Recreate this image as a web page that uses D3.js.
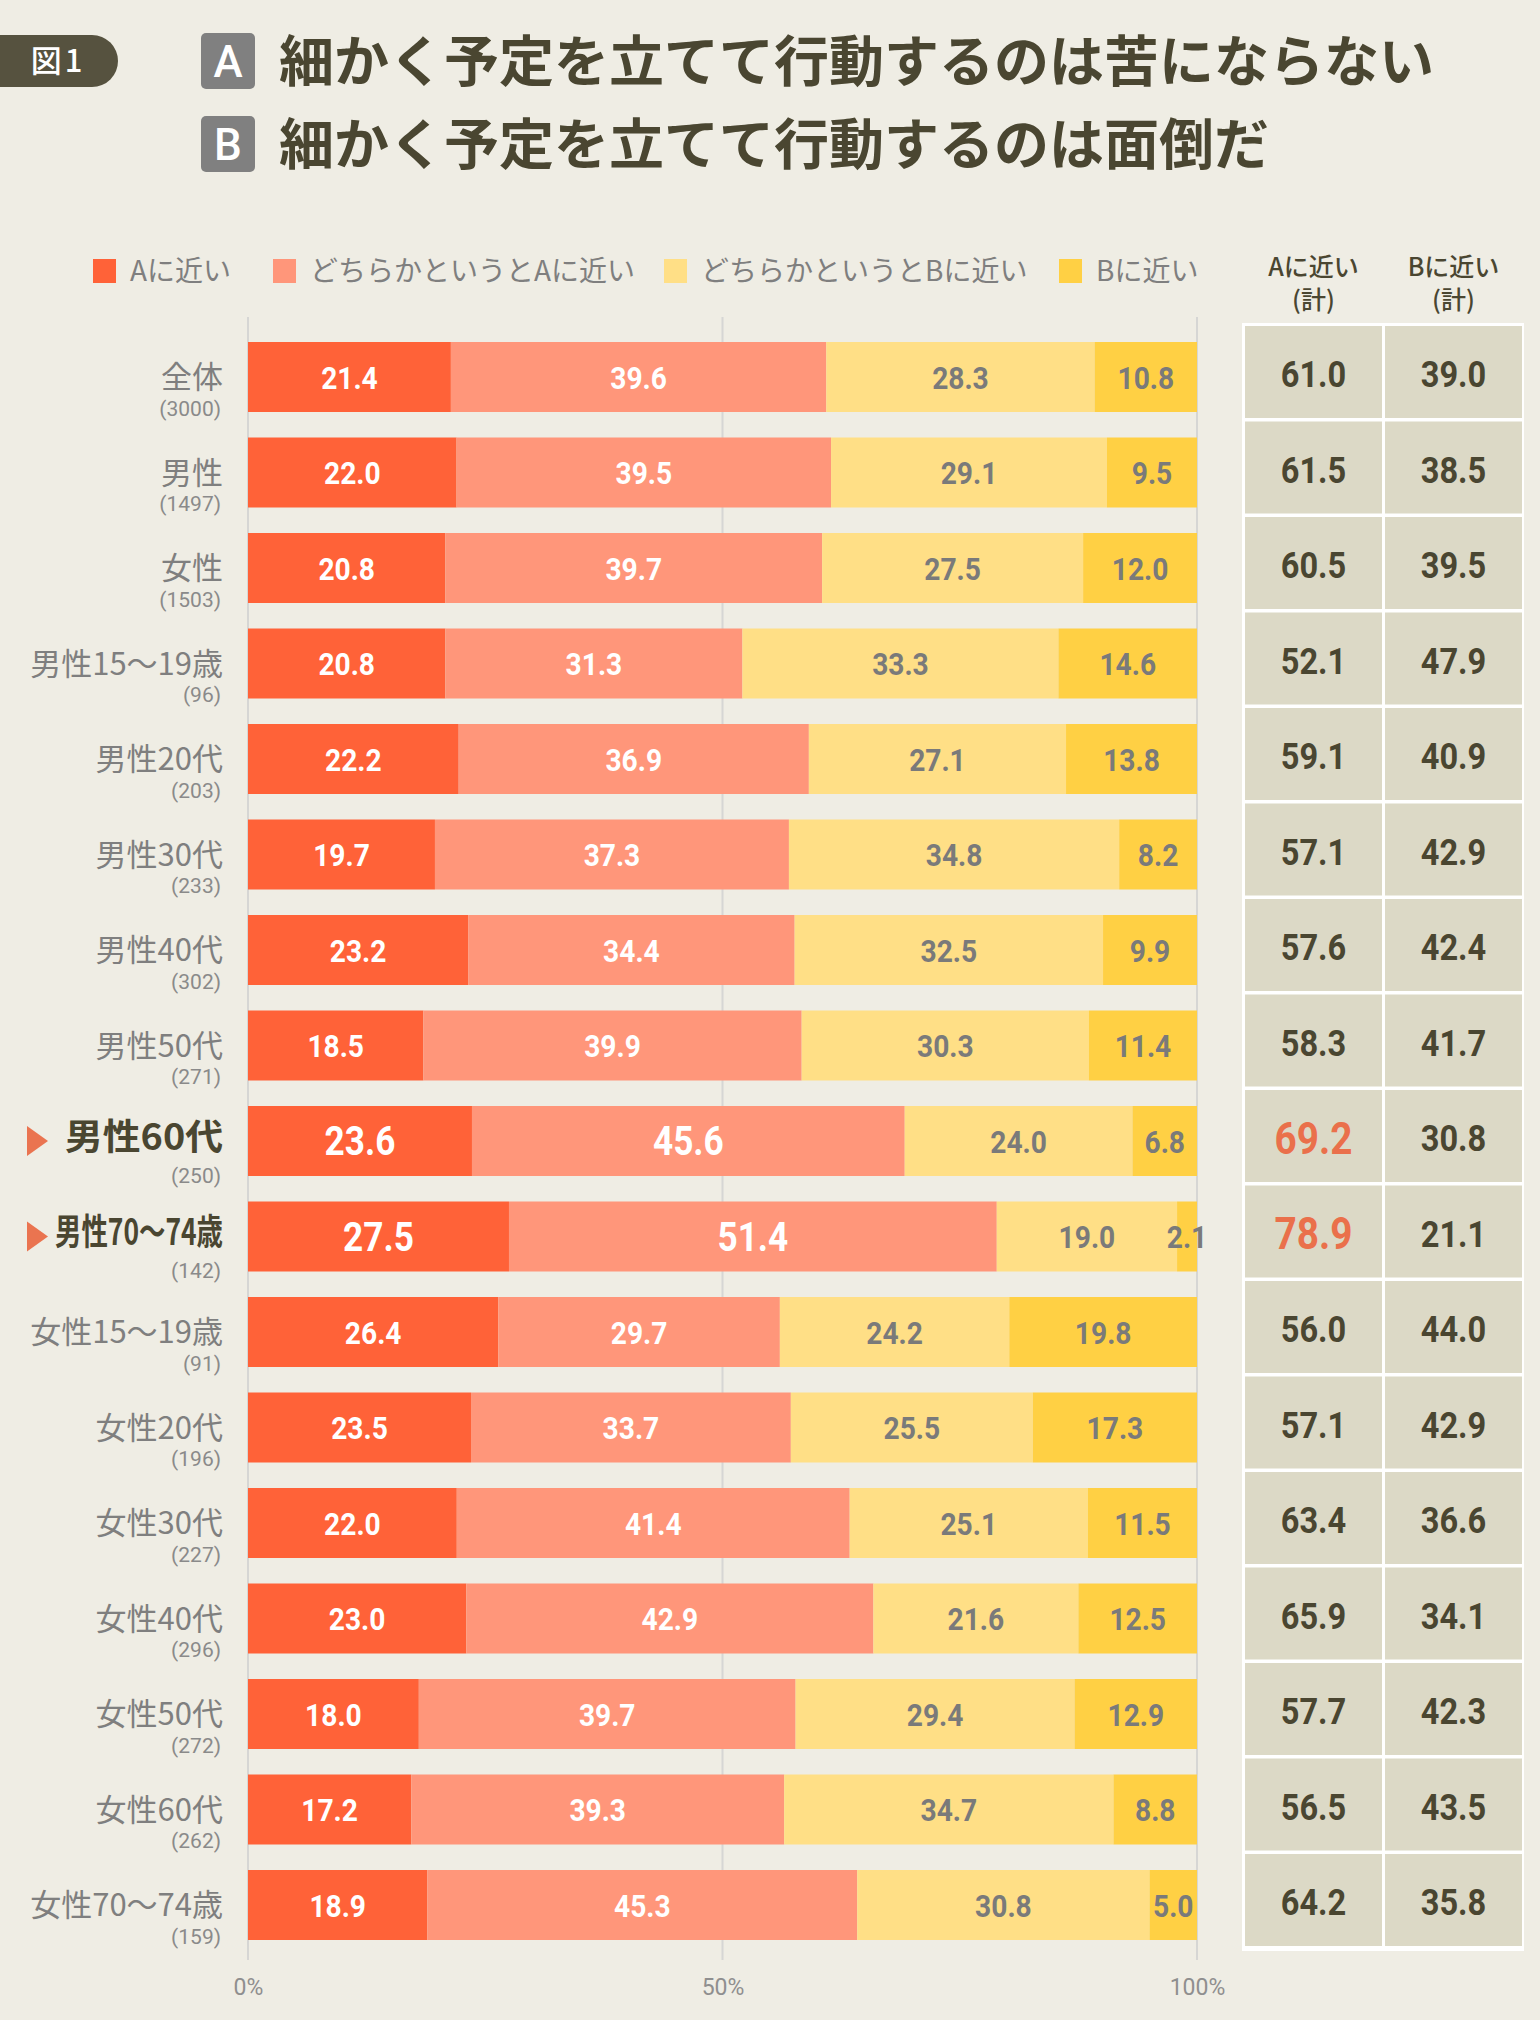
<!DOCTYPE html>
<html>
<head>
<meta charset="utf-8">
<script src="https://cdn.jsdelivr.net/npm/d3@7"></script>
<style>
  body { margin: 0; background: #efede4; }
  svg { display: block; }
</style>
</head>
<body>
<div id="stage"></div>
<script>
const categories = ['全体', '男性', '女性', '男性15〜19歳', '男性20代', '男性30代', '男性40代', '男性50代',
  '男性60代', '男性70〜74歳', '女性15〜19歳', '女性20代', '女性30代', '女性40代', '女性50代', '女性60代', '女性70〜74歳'];
const sampleSizes = [3000, 1497, 1503, 96, 203, 233, 302, 271, 250, 142, 91, 196, 227, 296, 272, 262, 159];
const nearA = [21.4, 22.0, 20.8, 20.8, 22.2, 19.7, 23.2, 18.5, 23.6, 27.5, 26.4, 23.5, 22.0, 23.0, 18.0, 17.2, 18.9];
const ratherA = [39.6, 39.5, 39.7, 31.3, 36.9, 37.3, 34.4, 39.9, 45.6, 51.4, 29.7, 33.7, 41.4, 42.9, 39.7, 39.3, 45.3];
const ratherB = [28.3, 29.1, 27.5, 33.3, 27.1, 34.8, 32.5, 30.3, 24.0, 19.0, 24.2, 25.5, 25.1, 21.6, 29.4, 34.7, 30.8];
const nearB = [10.8, 9.5, 12.0, 14.6, 13.8, 8.2, 9.9, 11.4, 6.8, 2.1, 19.8, 17.3, 11.5, 12.5, 12.9, 8.8, 5.0];
const totalA = [61.0, 61.5, 60.5, 52.1, 59.1, 57.1, 57.6, 58.3, 69.2, 78.9, 56.0, 57.1, 63.4, 65.9, 57.7, 56.5, 64.2];
const totalB = [39.0, 38.5, 39.5, 47.9, 40.9, 42.9, 42.4, 41.7, 30.8, 21.1, 44.0, 42.9, 36.6, 34.1, 42.3, 43.5, 35.8];
const highlighted = ['男性60代', '男性70〜74歳'];
const legendLabels = ['Aに近い', 'どちらかというとAに近い', 'どちらかというとBに近い', 'Bに近い'];
const tickValues = [0, 50, 100];

const colors = ['#ff6238', '#ff967a', '#ffdf86', '#ffd044'];
const labelColors = ['#ffffff', '#ffffff', '#7a7a7a', '#7a7a7a'];
const dark = '#4a4631';
const gray = '#7f7f7f';
const jp = '"Noto Sans CJK JP", "Noto Sans", sans-serif';
const num = 'Roboto, "Liberation Sans", sans-serif';

const svg = d3.select('#stage').append('svg')
  .attr('width', 1540)
  .attr('height', 2020);

svg.append('rect').attr('width', 1540).attr('height', 2020).attr('fill', '#efede4');

// header
svg.append('path')
  .attr('d', 'M0,35 H92 A26,26 0 0 1 92,87 H0 Z')
  .attr('fill', '#56523f');
svg.append('text')
  .attr('x', 58).attr('y', 61)
  .attr('dy', '0.36em')
  .attr('text-anchor', 'middle')
  .attr('fill', '#fff')
  .style('font', `500 31px ${jp}`)
  .style('letter-spacing', '3px')
  .text('図1');

const titles = [
  { key: 'A', text: '細かく予定を立てて行動するのは苦にならない', cy: 61 },
  { key: 'B', text: '細かく予定を立てて行動するのは面倒だ', cy: 144 },
];
const title = svg.selectAll('g.title').data(titles).enter().append('g').attr('class', 'title');
title.append('rect')
  .attr('x', 201).attr('y', (d) => d.cy - 28)
  .attr('width', 54).attr('height', 56)
  .attr('rx', 5)
  .attr('fill', '#808080');
title.append('text')
  .attr('x', 228).attr('y', (d) => d.cy)
  .attr('dy', '0.36em')
  .attr('text-anchor', 'middle')
  .attr('fill', '#fff')
  .style('font', `500 44px ${num}`)
  .text((d) => d.key);
title.append('text')
  .attr('x', 279).attr('y', (d) => d.cy)
  .attr('dy', '0.36em')
  .attr('fill', dark)
  .style('font', `700 55px ${jp}`)
  .text((d) => d.text);

// legend
const legendX = [93, 273, 664, 1059];
const legend = svg.selectAll('g.legend').data(legendLabels).enter().append('g')
  .attr('class', 'legend')
  .attr('transform', (d, i) => `translate(${legendX[i]},271)`);
legend.append('rect')
  .attr('x', 0).attr('y', -12)
  .attr('width', 23).attr('height', 24)
  .attr('fill', (d, i) => colors[i]);
legend.append('text')
  .attr('x', 37).attr('dy', '0.36em')
  .attr('fill', gray)
  .style('font', `400 28px ${jp}`)
  .text((d) => d);

// scales
const x = d3.scaleLinear().domain([0, 100]).range([248, 1197]);
const y = d3.scaleBand()
  .domain(categories)
  .range([329.25, 329.25 + 17 * 95.5])
  .paddingInner(0.267)
  .paddingOuter(0.1335);

// grid
svg.append('g').selectAll('line').data(tickValues).enter().append('line')
  .attr('x1', (d) => x(d)).attr('x2', (d) => x(d))
  .attr('y1', 317).attr('y2', 1960)
  .attr('stroke', '#d6d6d4')
  .attr('stroke-width', 2);

const axis = svg.append('g')
  .attr('transform', 'translate(0,1987)')
  .call(d3.axisBottom(x).tickValues(tickValues).tickSize(0).tickFormat((d) => d + '%'));
axis.select('.domain').remove();
axis.selectAll('text')
  .attr('y', 0).attr('dy', '0.36em')
  .attr('fill', '#8f8f8f')
  .style('font', `400 23px ${num}`);

// stacked bars
const rows = categories.map((c, i) => {
  const vals = [nearA[i], ratherA[i], ratherB[i], nearB[i]];
  const sum = d3.sum(vals);
  let acc = 0;
  const segs = vals.map((v, k) => {
    const s = { k, v, x0: acc / sum * 100, x1: (acc + v) / sum * 100 };
    acc += v;
    return s;
  });
  return { c, n: sampleSizes[i], segs, hi: highlighted.includes(c) };
});

const row = svg.selectAll('g.row').data(rows).enter().append('g')
  .attr('class', 'row')
  .attr('transform', (d) => `translate(0,${y(d.c)})`);

row.selectAll('rect').data((d) => d.segs).enter().append('rect')
  .attr('x', (s) => x(s.x0))
  .attr('width', (s) => x(s.x1) - x(s.x0))
  .attr('height', y.bandwidth())
  .attr('fill', (s) => colors[s.k]);

row.each(function (d) {
  const g = d3.select(this);
  const mid = y.bandwidth() / 2;
  g.selectAll('text.val').data(d.segs).enter().append('text')
    .attr('class', 'val')
    .attr('transform', (s) => `translate(${x((s.x0 + s.x1) / 2)},${mid}) scale(0.88,1)`)
    .attr('dy', '0.36em')
    .attr('text-anchor', 'middle')
    .attr('fill', (s) => labelColors[s.k])
    .style('font', (s) => (d.hi && s.k < 2 ? `700 40px ${num}` : `700 32px ${num}`))
    .text((s) => s.v.toFixed(1));

  const lbl = g.append('text')
    .attr('x', 223).attr('y', d.hi ? mid - 4 : mid)
    .attr('dy', '0.36em')
    .attr('text-anchor', 'end')
    .attr('fill', d.hi ? dark : gray)
    .style('font', d.hi ? `700 36px ${jp}` : `400 31px ${jp}`)
    .text(d.c);
  if (d.hi) lbl.attr('textLength', d.c.length > 5 ? 168 : 158).attr('lengthAdjust', 'spacingAndGlyphs');

  g.append('text')
    .attr('x', 221).attr('y', d.hi ? mid + 34 : mid + 31)
    .attr('dy', '0.36em')
    .attr('text-anchor', 'end')
    .attr('fill', '#8a8a8a')
    .style('font', `400 21px ${num}`)
    .text(`(${d.n})`);

  if (d.hi) {
    g.append('path')
      .attr('d', `M27,${mid - 15} L48,${mid} L27,${mid + 15} Z`)
      .attr('fill', '#ea7450');
  }
});

// totals table
const colX = [1245, 1385];
const colW = 137;
const tableTop = 323;
const tableBottom = 1951;
svg.append('rect')
  .attr('x', 1242).attr('y', tableTop)
  .attr('width', 282).attr('height', tableBottom - tableTop)
  .attr('fill', '#ffffff');

const headers = ['Aに近い', 'Bに近い'];
const head = svg.selectAll('g.head').data(headers).enter().append('g')
  .attr('class', 'head')
  .attr('transform', (d, i) => `translate(${colX[i] + colW / 2},0)`);
head.append('text')
  .attr('y', 267).attr('dy', '0.36em')
  .attr('text-anchor', 'middle')
  .attr('fill', dark)
  .style('font', `500 25px ${jp}`)
  .text((d) => d);
head.append('text')
  .attr('y', 300).attr('dy', '0.36em')
  .attr('text-anchor', 'middle')
  .attr('fill', dark)
  .style('font', `500 25px ${jp}`)
  .text('(計)');

const totals = categories.map((c, i) => ({ c, vals: [totalA[i], totalB[i]], hi: highlighted.includes(c) }));
const trow = svg.selectAll('g.trow').data(totals).enter().append('g')
  .attr('class', 'trow')
  .attr('transform', (d) => `translate(0,${y(d.c) - 16})`);
trow.selectAll('rect').data((d) => d.vals).enter().append('rect')
  .attr('x', (v, i) => colX[i])
  .attr('width', colW)
  .attr('height', 92)
  .attr('fill', '#dcd9c6');
trow.each(function (d) {
  d3.select(this).selectAll('text').data(d.vals).enter().append('text')
    .attr('transform', (v, i) => `translate(${colX[i] + colW / 2},48) scale(0.88,1)`)
    .attr('dy', '0.36em')
    .attr('text-anchor', 'middle')
    .attr('fill', (v, i) => (d.hi && i === 0 ? '#ea704b' : dark))
    .style('font', (v, i) => (d.hi && i === 0 ? `700 44px ${num}` : `700 37px ${num}`))
    .text((v) => v.toFixed(1));
});
</script>
</body>
</html>
